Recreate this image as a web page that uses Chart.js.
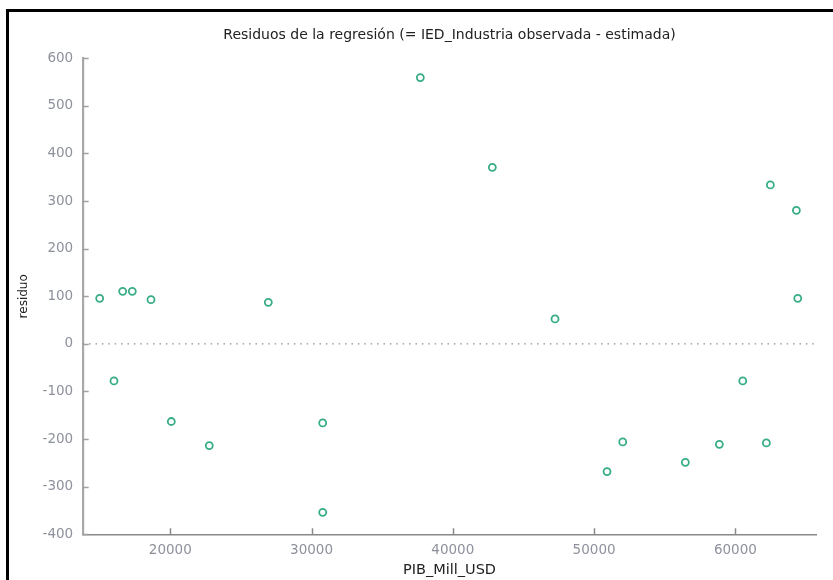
<!DOCTYPE html>
<html>
<head>
<meta charset="utf-8">
<script src="https://cdn.jsdelivr.net/npm/chart.js@4/dist/chart.umd.min.js"></script>
<style>
  html, body { margin: 0; padding: 0; background: #fff; }
  #wrap { position: relative; width: 833px; height: 580px; overflow: hidden; }
  #c { position: absolute; left: 0; top: 0; }
  #frame { position: absolute; left: 6px; top: 9px; width: 900px; height: 700px;
           border-left: 3px solid #000; border-top: 3px solid #000; pointer-events: none; }
</style>
</head>
<body>
<div id="wrap">
  <canvas id="c" width="833" height="580"></canvas>
  <div id="frame"></div>
</div>
<script>
// ---- data ----
const pibMillUsd = [15002, 16014, 16630, 17310, 18634, 20071, 22761, 26938, 30789, 30789, 37699,
                    42796, 47235, 50917, 52028, 56460, 58867, 60524, 62195, 62478, 64319, 64418];
const residuo    = [95.8, -77.7, 110.5, 110.5, 93, -163, -213.7, 87.4, -166, -353.8, 559.5,
                    371, 52.5, -268.3, -205.9, -248.7, -210.9, -77.7, -208, 334, 280.7, 95.8];
const xRange = [13800, 65730];
const yRange = [-400, 600];
const xTicks = [20000, 30000, 40000, 50000, 60000];
const yTicks = [-400, -300, -200, -100, 0, 100, 200, 300, 400, 500, 600];
const titleText = 'Residuos de la regresión (= IED_Industria observada - estimada)';
const xLabel = 'PIB_Mill_USD';
const yLabel = 'residuo';

const points = pibMillUsd.map((x, i) => ({ x: x, y: residuo[i] }));
const zeroLine = [{ x: xRange[0], y: 0 }, { x: xRange[1], y: 0 }];

const tickColor = '#8d919c';
const FONT = "'DejaVu Sans', Verdana, sans-serif";

// inward tick marks
const inwardTicks = {
  id: 'inwardTicks',
  afterDatasetsDraw(chart) {
    const ctx = chart.ctx;
    const xs = chart.scales.x, ys = chart.scales.y;
    const a = chart.chartArea;
    ctx.save();
    ctx.lineWidth = 1.5;
    ctx.strokeStyle = '#a0a0a0';
    ys.ticks.forEach(t => {
      const py = Math.round(ys.getPixelForValue(t.value)) + 0.5;
      ctx.beginPath(); ctx.moveTo(a.left, py); ctx.lineTo(a.left + 6, py); ctx.stroke();
    });
    ctx.strokeStyle = '#888';
    xs.ticks.forEach(t => {
      const px = Math.round(xs.getPixelForValue(t.value)) + 0.5;
      ctx.beginPath(); ctx.moveTo(px, a.bottom); ctx.lineTo(px, a.bottom - 6); ctx.stroke();
    });
    ctx.restore();
  }
};

new Chart(document.getElementById('c'), {
  type: 'scatter',
  data: {
    datasets: [
      {
        type: 'line',
        data: zeroLine,
        borderColor: '#8f8f8f',
        borderWidth: 1.3,
        borderDash: [1.5, 4.9],
        pointRadius: 0,
        fill: false,
        order: 2
      },
      {
        data: points,
        showLine: false,
        pointRadius: 3.5,
        pointHoverRadius: 3.5,
        pointBorderWidth: 1.8,
        pointBorderColor: '#37ad85',
        pointBackgroundColor: 'rgba(255,255,255,0)',
        order: 1
      }
    ]
  },
  options: {
    responsive: false,
    animation: false,
    devicePixelRatio: 1,
    layout: { padding: { left: 0, right: 16.7, top: 0, bottom: 0 } },
    plugins: {
      legend: { display: false },
      tooltip: { enabled: false },
      title: {
        display: true,
        text: titleText,
        fullSize: false,
        color: '#222',
        font: { family: FONT, size: 14, weight: 'normal' },
        padding: { top: 26.6, bottom: 14.9 }
      }
    },
    scales: {
      x: {
        type: 'linear',
        min: xRange[0],
        max: xRange[1],
        afterBuildTicks(s) { s.ticks = xTicks.map(v => ({ value: v })); },
        afterFit(s) { s.height = 45.7; },
        grid: { display: false, drawTicks: false },
        border: { display: true, color: '#888', width: 1.5 },
        ticks: {
          padding: 8,
          color: tickColor,
          font: { family: FONT, size: 13.5 },
          maxRotation: 0,
          autoSkip: false,
          callback: v => String(v)
        },
        title: {
          display: true,
          text: xLabel,
          color: '#222',
          font: { family: FONT, size: 14.5 },
          padding: { top: 0, bottom: 1.2 }
        }
      },
      y: {
        type: 'linear',
        min: yRange[0],
        max: yRange[1],
        afterBuildTicks(s) { s.ticks = yTicks.map(v => ({ value: v })); },
        afterFit(s) { s.width = 82.7; },
        grid: { display: false, drawTicks: false },
        border: { display: true, color: '#a8a8a8', width: 2.2 },
        ticks: {
          padding: 9.5,
          color: tickColor,
          autoSkip: false,
          font: { family: FONT, size: 13.5 },
          callback: v => String(v)
        },
        title: {
          display: true,
          text: yLabel,
          color: '#222',
          font: { family: FONT, size: 12 },
          padding: { top: 16.8, bottom: 0 }
        }
      }
    }
  },
  plugins: [inwardTicks]
});
</script>
</body>
</html>
